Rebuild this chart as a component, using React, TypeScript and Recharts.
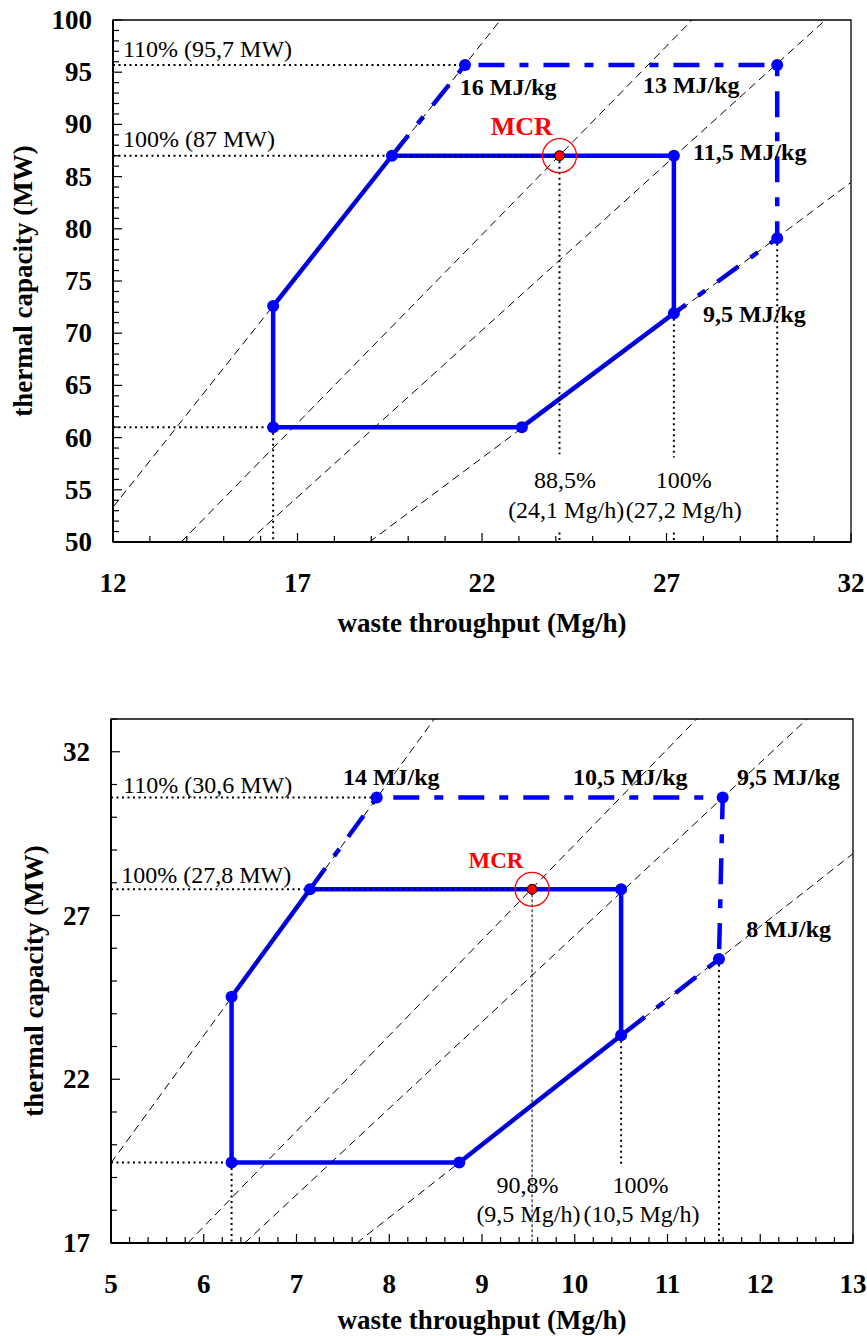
import React from "react";
import { ComposedChart, Line, Scatter, XAxis, YAxis, ReferenceDot, ReferenceArea } from "recharts";

const SERIF = "'Liberation Serif', 'Times New Roman', Times, serif";
const BLUE = "#0000ff";

type Pt = { x: number; y: number };
type Seg = [Pt, Pt];

// ---- upper panel: values ----
const topNcv = [16, 13, 11.5, 9.5]; // MJ/kg, lines of constant heating value
const topPolygon: Pt[] = [
  { x: 16.34, y: 61 },
  { x: 16.34, y: 72.6 },
  { x: 19.56, y: 87 },
  { x: 27.2, y: 87 },
  { x: 27.2, y: 71.9 },
  { x: 23.08, y: 61 },
  { x: 16.34, y: 61 },
];
const topOverload: Pt[] = [
  { x: 19.56, y: 87 },
  { x: 21.54, y: 95.7 },
  { x: 30.0, y: 95.7 },
  { x: 30.0, y: 79.1 },
  { x: 27.2, y: 71.9 },
];
const topMcr: Pt = { x: 24.1, y: 87 };
const topXLabels = [12, 17, 22, 27, 32];
const topYLabels = [50, 55, 60, 65, 70, 75, 80, 85, 90, 95, 100];

// ---- lower panel ----
const botNcv = [14, 10.5, 9.5, 8];
const botPolygon: Pt[] = [
  { x: 6.3, y: 19.46 },
  { x: 6.3, y: 24.52 },
  { x: 7.145, y: 27.8 },
  { x: 10.5, y: 27.8 },
  { x: 10.5, y: 23.34 },
  { x: 8.755, y: 19.46 },
  { x: 6.3, y: 19.46 },
];
const botOverload: Pt[] = [
  { x: 7.145, y: 27.8 },
  { x: 7.865, y: 30.6 },
  { x: 11.595, y: 30.6 },
  { x: 11.555, y: 25.67 },
  { x: 10.5, y: 23.34 },
];
const botMcr: Pt = { x: 9.54, y: 27.8 };
const botXLabels = [5, 6, 7, 8, 9, 10, 11, 12, 13];
const botYLabels = [17, 22, 27, 32];

const steps = (a: number, b: number, s: number) =>
  Array.from({ length: Math.round((b - a) / s) + 1 }, (_, i) => +(a + i * s).toFixed(4));

// thermal capacity (MW) = throughput (Mg/h) * NCV (MJ/kg) / 3.6, clipped to the plot
function ncvSegment(h: number, xd: [number, number], yd: [number, number]): Seg {
  const k = h / 3.6;
  const x0 = Math.max(xd[0], yd[0] / k);
  const x1 = Math.min(xd[1], yd[1] / k);
  return [
    { x: x0, y: k * x0 },
    { x: x1, y: k * x1 },
  ];
}

const isLabel = (labels: number[], v: number) => labels.some((l) => Math.abs(l - v) < 1e-6);

const tickText = { fontFamily: SERIF, fontWeight: 700, fontSize: 27 } as const;

function XTick(props: any) {
  const { x, y, payload, labels } = props;
  const major = isLabel(labels, payload.value);
  return (
    <g>
      <line x1={x} x2={x} y1={y} y2={y - (major ? 9 : 6)} stroke="#000" strokeWidth={1.2} />
      {major && (
        <text x={x} y={y + 50} textAnchor="middle" fill="#000" style={tickText}>
          {payload.value}
        </text>
      )}
    </g>
  );
}

function YTick(props: any) {
  const { x, y, payload, labels } = props;
  const major = isLabel(labels, payload.value);
  return (
    <g>
      <line x1={x} x2={x + (major ? 9 : 6)} y1={y} y2={y} stroke="#000" strokeWidth={1.2} />
      {major && (
        <text x={x - 21} y={y + 9} textAnchor="end" fill="#000" style={tickText}>
          {payload.value}
        </text>
      )}
    </g>
  );
}

function Note({ x, y, text, bold, size = 24, anchor = "start", color = "#000" }: any) {
  return (
    <ReferenceDot
      x={x}
      y={y}
      r={0}
      ifOverflow="visible"
      shape={(p: any) => (
        <text
          x={p.cx}
          y={p.cy}
          textAnchor={anchor}
          fill={color}
          style={{ fontFamily: SERIF, fontWeight: bold ? 700 : 400, fontSize: size }}
        >
          {text}
        </text>
      )}
    />
  );
}

function SegLine({ seg, width, dash }: { seg: Seg; width: number; dash: string }) {
  return (
    <Line
      data={seg}
      dataKey="y"
      type="linear"
      stroke="#000"
      strokeWidth={width}
      strokeDasharray={dash}
      dot={false}
      activeDot={false}
      legendType="none"
      isAnimationActive={false}
    />
  );
}

interface PanelProps {
  top: number;
  height: number;
  marginTop: number;
  marginRight: number;
  yAxisWidth: number;
  xAxisHeight: number;
  xDomain: [number, number];
  yDomain: [number, number];
  xTicks: number[];
  xLabels: number[];
  yTicks: number[];
  yLabels: number[];
  ncv: number[];
  polygon: Pt[];
  overload: Pt[];
  mcr: Pt;
  guides: Seg[];
  thinGuides: Seg[];
  yTitleX: number;
  xTitleDy: number;
  children?: React.ReactNode;
}

function Panel(p: PanelProps) {
  const vertices = [...p.polygon.slice(0, -1), p.overload[1], p.overload[2], p.overload[3]];
  return (
    <div style={{ position: "absolute", left: 0, top: p.top, width: 867, height: p.height }}>
      <ComposedChart
        width={867}
        height={p.height}
        margin={{ top: p.marginTop, right: p.marginRight, bottom: 0, left: 0 }}
      >
        <XAxis
          type="number"
          dataKey="x"
          domain={p.xDomain}
          ticks={p.xTicks}
          interval={0}
          allowDataOverflow
          height={p.xAxisHeight}
          tickSize={0}
          tickMargin={0}
          axisLine={{ stroke: "#000", strokeWidth: 2 }}
          tick={(t: any) => <XTick {...t} labels={p.xLabels} />}
          label={(lp: any) => {
            const vb = lp.viewBox || {};
            return (
              <text
                x={vb.x + vb.width / 2}
                y={vb.y + p.xTitleDy}
                textAnchor="middle"
                fill="#000"
                style={{ fontFamily: SERIF, fontWeight: 700, fontSize: 27 }}
              >
                waste throughput (Mg/h)
              </text>
            );
          }}
        />
        <YAxis
          type="number"
          dataKey="y"
          domain={p.yDomain}
          ticks={p.yTicks}
          interval={0}
          allowDataOverflow
          width={p.yAxisWidth}
          tickSize={0}
          tickMargin={0}
          axisLine={{ stroke: "#000", strokeWidth: 2 }}
          tick={(t: any) => <YTick {...t} labels={p.yLabels} />}
          label={(lp: any) => {
            const vb = lp.viewBox || {};
            const cx = vb.x + p.yTitleX;
            const cy = vb.y + vb.height / 2;
            return (
              <text
                x={cx}
                y={cy}
                transform={`rotate(-90 ${cx} ${cy})`}
                textAnchor="middle"
                fill="#000"
                style={{ fontFamily: SERIF, fontWeight: 700, fontSize: 27 }}
              >
                thermal capacity (MW)
              </text>
            );
          }}
        />
        <ReferenceArea
          x1={p.xDomain[0]}
          x2={p.xDomain[1]}
          y1={p.yDomain[0]}
          y2={p.yDomain[1]}
          fill="none"
          fillOpacity={0}
          stroke="#000"
          strokeWidth={1.3}
          ifOverflow="visible"
        />
        <Line
          data={p.polygon}
          dataKey="y"
          type="linear"
          stroke={BLUE}
          strokeWidth={4.5}
          dot={false}
          activeDot={false}
          isAnimationActive={false}
        />
        <Line
          data={p.overload}
          dataKey="y"
          type="linear"
          stroke={BLUE}
          strokeWidth={4.5}
          strokeDasharray="26 15 9 15"
          dot={false}
          activeDot={false}
          isAnimationActive={false}
        />
        {p.ncv.map((h) => (
          <SegLine key={`ncv-${h}`} seg={ncvSegment(h, p.xDomain, p.yDomain)} width={1} dash="8 5" />
        ))}
        {p.guides.map((s, i) => (
          <SegLine key={`g-${i}`} seg={s} width={2} dash="2 3.5" />
        ))}
        {p.thinGuides.map((s, i) => (
          <SegLine key={`tg-${i}`} seg={s} width={1} dash="3 2" />
        ))}
        <Scatter
          data={vertices}
          isAnimationActive={false}
          shape={(s: any) => <circle cx={s.cx} cy={s.cy} r={6} fill={BLUE} />}
        />
        <Scatter
          data={[p.mcr]}
          isAnimationActive={false}
          shape={(s: any) => (
            <g>
              <circle cx={s.cx} cy={s.cy} r={17} fill="none" stroke="#ff0000" strokeWidth={1.3} />
              <circle cx={s.cx} cy={s.cy} r={5} fill="#ff0000" stroke="#000" strokeWidth={1} />
            </g>
          )}
        />
        {p.children}
      </ComposedChart>
    </div>
  );
}

export default function App() {
  const tXd: [number, number] = [12, 32];
  const tYd: [number, number] = [50, 100];
  const bXd: [number, number] = [5, 13];
  const bYd: [number, number] = [17, 33];
  const [tp1, tp2, tp3, tp4] = [topOverload[1], topOverload[3], topPolygon[0], topPolygon[4]];
  const [bp1, bp2, bp3, bp4] = [botOverload[1], botOverload[3], botPolygon[0], botPolygon[4]];

  const topGuides: Seg[] = [
    [{ x: tXd[0], y: tp1.y }, tp1],
    [{ x: tXd[0], y: topMcr.y }, topMcr],
    [{ x: tXd[0], y: tp3.y }, tp3],
    [tp3, { x: tp3.x, y: tYd[0] }],
    [topMcr, { x: topMcr.x, y: 58.4 }],
    [{ x: topMcr.x, y: 50.9 }, { x: topMcr.x, y: tYd[0] }],
    [tp4, { x: tp4.x, y: 58.1 }],
    [{ x: tp4.x, y: 50.9 }, { x: tp4.x, y: tYd[0] }],
    [tp2, { x: tp2.x, y: tYd[0] }],
  ];
  const botGuides: Seg[] = [
    [{ x: bXd[0], y: bp1.y }, bp1],
    [{ x: bXd[0], y: botMcr.y }, botMcr],
    [{ x: bXd[0], y: bp3.y }, bp3],
    [bp3, { x: bp3.x, y: bYd[0] }],
    [bp4, { x: bp4.x, y: 19.37 }],
    [bp2, { x: bp2.x, y: bYd[0] }],
  ];
  const botThin: Seg[] = [[botMcr, { x: botMcr.x, y: bYd[0] }]];

  return (
    <div style={{ position: "absolute", left: 0, top: 0, width: 867, height: 1336, background: "#fff" }}>
      <Panel
        top={0}
        height={650}
        marginTop={20}
        marginRight={16}
        yAxisWidth={113}
        xAxisHeight={108}
        xDomain={tXd}
        yDomain={tYd}
        xTicks={steps(12, 32, 1)}
        xLabels={topXLabels}
        yTicks={steps(50, 100, 1)}
        yLabels={topYLabels}
        ncv={topNcv}
        polygon={topPolygon}
        overload={topOverload}
        mcr={topMcr}
        guides={topGuides}
        thinGuides={[]}
        yTitleX={32}
        xTitleDy={90}
      >
        <Note x={12.27} y={96.45} text="110% (95,7 MW)" />
        <Note x={12.27} y={87.84} text="100% (87 MW)" />
        <Note x={21.4} y={92.82} text="16 MJ/kg" bold />
        <Note x={26.36} y={93.0} text="13 MJ/kg" bold />
        <Note x={27.72} y={86.59} text="11,5 MJ/kg" bold />
        <Note x={27.99} y={71.07} text="9,5 MJ/kg" bold />
        <Note x={23.08} y={88.98} text="MCR" bold size={26} anchor="middle" color="#ff0000" />
        <Note x={24.25} y={55.17} text="88,5%" anchor="middle" />
        <Note x={24.28} y={52.3} text="(24,1 Mg/h)" anchor="middle" />
        <Note x={27.47} y={55.17} text="100%" anchor="middle" />
        <Note x={27.47} y={52.3} text="(27,2 Mg/h)" anchor="middle" />
      </Panel>
      <Panel
        top={680}
        height={656}
        marginTop={39}
        marginRight={14}
        yAxisWidth={111}
        xAxisHeight={93}
        xDomain={bXd}
        yDomain={bYd}
        xTicks={steps(5, 13, 0.2)}
        xLabels={botXLabels}
        yTicks={steps(17, 33, 1)}
        yLabels={botYLabels}
        ncv={botNcv}
        polygon={botPolygon}
        overload={botOverload}
        mcr={botMcr}
        guides={botGuides}
        thinGuides={botThin}
        yTitleX={43}
        xTitleDy={86}
      >
        <Note x={5.13} y={30.74} text="110% (30,6 MW)" />
        <Note x={5.11} y={27.99} text="100% (27,8 MW)" />
        <Note x={7.5} y={30.98} text="14 MJ/kg" bold />
        <Note x={9.98} y={30.98} text="10,5 MJ/kg" bold />
        <Note x={11.75} y={30.98} text="9,5 MJ/kg" bold />
        <Note x={11.85} y={26.34} text="8 MJ/kg" bold />
        <Note x={9.15} y={28.45} text="MCR" bold size={23} anchor="middle" color="#ff0000" />
        <Note x={9.49} y={18.52} text="90,8%" anchor="middle" />
        <Note x={9.5} y={17.63} text="(9,5 Mg/h)" anchor="middle" />
        <Note x={10.71} y={18.52} text="100%" anchor="middle" />
        <Note x={10.72} y={17.63} text="(10,5 Mg/h)" anchor="middle" />
      </Panel>
    </div>
  );
}
